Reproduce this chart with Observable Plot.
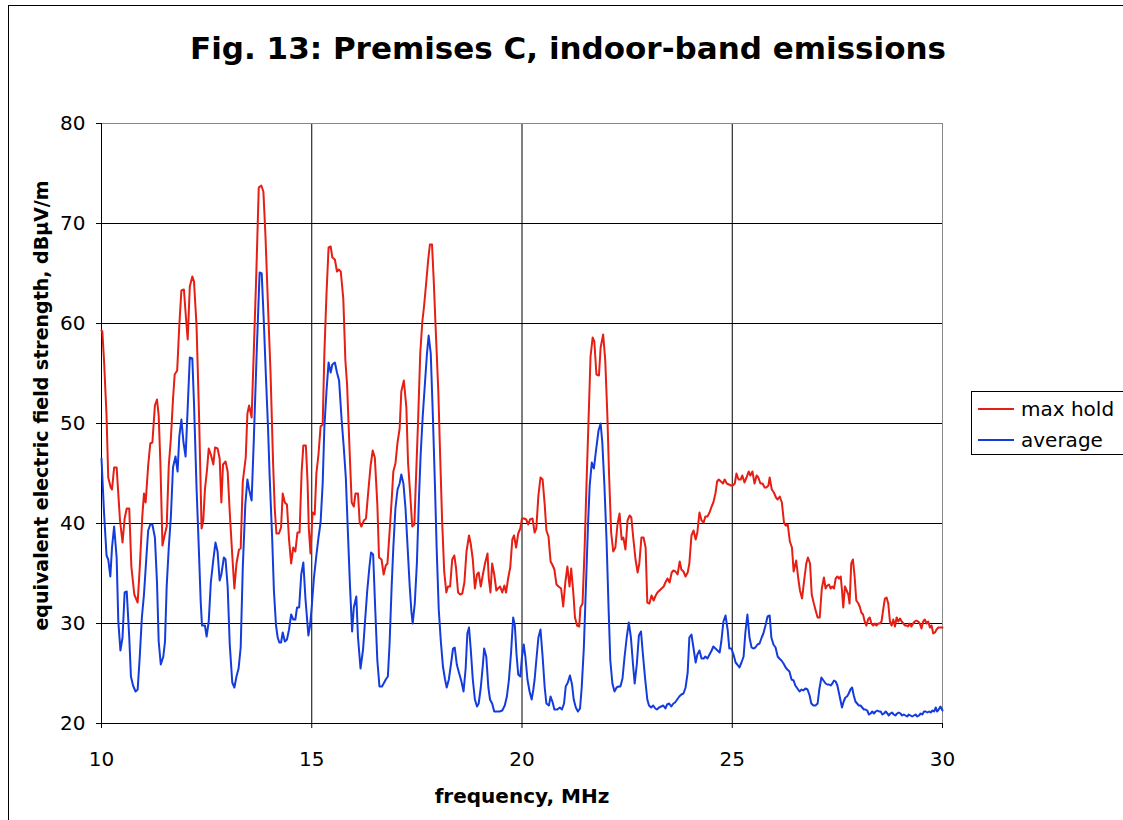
<!DOCTYPE html>
<html><head><meta charset="utf-8">
<script src="https://cdn.jsdelivr.net/npm/d3@7"></script>
<script src="https://cdn.jsdelivr.net/npm/@observablehq/plot@0.6"></script>
<style>
html,body{margin:0;padding:0;background:#fff;overflow:hidden}
#page{position:relative;width:1123px;height:820px;overflow:hidden;font-family:"DejaVu Sans",Verdana,sans-serif;color:#000}
#border{position:absolute;left:8px;top:5px;width:1300px;height:1000px;border:1px solid #000;box-sizing:border-box}
#title{position:absolute;left:0;top:33px;width:1136px;text-align:center;font-weight:bold;font-size:31px;line-height:31px;white-space:nowrap}
#chart{position:absolute;left:0;top:100px}
#legend{position:absolute;left:971px;top:391px;width:160px;height:64px;border:1px solid #000;box-sizing:border-box;background:#fff;font-size:20px}
.row{position:absolute;left:0;height:24px;width:160px}
.sw{position:absolute;left:6px;top:11px;width:36px;height:2px}
.lab{position:absolute;left:49px;top:0;line-height:24px;white-space:nowrap}
</style></head>
<body>
<div id="page">
  <div id="border"></div>
  <div id="title"></div>
  <div id="chart"></div>
  <div id="legend"></div>
</div>
<script>
const titleText = "Fig. 13: Premises C, indoor-band emissions";
const xLabel = "frequency, MHz";
const yLabel = "equivalent electric field strength, dBµV/m";
const xTicks = [10, 15, 20, 25, 30];
const yTicks = [20, 30, 40, 50, 60, 70, 80];
const seriesNames = ["max hold", "average"];
const seriesColors = ["#e61e14", "#143cdc"];

// [frequency MHz, dBµV/m]
const maxHold = [
[10.00,59.3],[10.02,59.2],[10.06,56.3],[10.12,50.8],[10.16,44.6],[10.22,43.6],[10.25,43.4],[10.30,45.6],[10.36,45.6],[10.44,40.3],
[10.50,38.1],[10.55,40.5],[10.60,41.5],[10.66,41.5],[10.71,35.7],[10.78,32.9],[10.86,32.1],[10.91,35.6],[10.97,40.7],[11.01,43.0],
[11.05,42.1],[11.11,45.8],[11.16,48.0],[11.21,48.1],[11.27,51.8],[11.32,52.4],[11.36,50.8],[11.40,46.1],[11.45,37.8],[11.50,38.8],
[11.55,39.7],[11.60,45.8],[11.65,48.5],[11.70,52.4],[11.74,54.9],[11.80,55.3],[11.85,59.8],[11.90,63.3],[11.96,63.4],[12.01,60.5],
[12.05,58.4],[12.10,63.7],[12.16,64.7],[12.20,64.2],[12.26,59.8],[12.32,50.8],[12.38,39.5],[12.42,40.3],[12.46,43.4],[12.51,45.4],
[12.55,47.5],[12.60,46.9],[12.66,45.9],[12.70,47.6],[12.76,47.5],[12.81,46.5],[12.85,42.1],[12.89,45.9],[12.95,46.2],[13.00,45.2],
[13.05,41.1],[13.11,36.8],[13.16,33.5],[13.21,36.0],[13.27,37.4],[13.31,37.5],[13.36,44.2],[13.43,46.6],[13.47,51.0],[13.51,51.8],
[13.57,50.6],[13.62,57.0],[13.68,64.8],[13.74,73.6],[13.80,73.8],[13.85,73.2],[13.90,68.7],[13.96,61.7],[14.02,55.1],[14.08,46.1],
[14.12,41.5],[14.16,39.0],[14.22,39.0],[14.27,39.6],[14.31,43.0],[14.36,42.1],[14.41,41.9],[14.46,38.4],[14.51,36.0],[14.56,37.6],
[14.61,37.2],[14.66,39.1],[14.71,39.1],[14.76,45.2],[14.80,47.8],[14.86,47.8],[14.90,44.2],[14.93,39.5],[14.97,37.0],[15.02,41.1],
[15.07,40.9],[15.11,45.0],[15.16,46.9],[15.21,49.7],[15.26,49.9],[15.30,57.0],[15.35,62.9],[15.40,67.6],[15.45,67.7],[15.49,66.6],
[15.55,66.4],[15.60,65.2],[15.64,65.4],[15.69,65.2],[15.75,62.5],[15.80,56.3],[15.84,53.9],[15.90,47.3],[15.95,42.1],[16.00,41.7],
[16.04,43.0],[16.10,43.0],[16.14,40.1],[16.18,39.7],[16.24,40.3],[16.29,40.5],[16.34,43.0],[16.40,45.8],[16.45,47.3],[16.50,46.6],
[16.56,41.9],[16.60,36.6],[16.66,36.4],[16.71,34.9],[16.76,35.8],[16.80,36.0],[16.85,39.1],[16.90,42.3],[16.94,45.2],[16.99,46.0],
[17.04,48.1],[17.09,49.5],[17.13,53.2],[17.19,54.3],[17.25,51.6],[17.29,46.1],[17.34,43.0],[17.39,39.7],[17.44,39.9],[17.48,44.6],
[17.53,50.4],[17.58,57.0],[17.63,60.2],[17.67,61.7],[17.72,64.0],[17.77,66.4],[17.81,67.9],[17.86,67.9],[17.90,64.4],[17.96,58.2],
[18.01,53.2],[18.05,47.3],[18.10,40.3],[18.15,35.2],[18.20,33.1],[18.24,33.7],[18.29,33.7],[18.34,36.4],[18.39,36.8],[18.43,35.6],
[18.48,33.1],[18.53,32.9],[18.58,33.0],[18.63,34.1],[18.68,37.2],[18.74,38.8],[18.78,38.0],[18.83,36.4],[18.88,33.5],[18.93,34.9],
[18.97,35.1],[19.02,33.7],[19.07,34.9],[19.12,36.0],[19.18,37.0],[19.21,34.5],[19.25,33.1],[19.29,36.0],[19.34,34.9],[19.39,33.3],
[19.43,33.5],[19.48,33.7],[19.53,33.1],[19.58,33.8],[19.62,33.1],[19.67,34.5],[19.72,35.6],[19.77,38.4],[19.81,38.8],[19.86,37.6],
[19.91,39.0],[19.96,39.5],[20.00,40.5],[20.05,40.5],[20.10,40.4],[20.15,39.9],[20.19,40.4],[20.25,40.5],[20.30,39.1],[20.34,39.5],
[20.39,42.8],[20.44,44.6],[20.49,44.4],[20.54,41.9],[20.58,39.3],[20.63,38.7],[20.68,36.2],[20.73,35.8],[20.77,35.4],[20.82,33.9],
[20.87,33.7],[20.93,33.5],[20.98,31.7],[21.03,34.1],[21.08,35.7],[21.13,33.7],[21.17,35.5],[21.22,33.1],[21.26,30.6],[21.31,29.8],
[21.36,29.7],[21.39,31.6],[21.44,32.0],[21.49,37.6],[21.53,43.4],[21.58,50.0],[21.63,56.7],[21.68,58.6],[21.72,58.2],[21.77,54.9],
[21.83,54.8],[21.87,57.6],[21.93,58.9],[21.98,56.3],[22.03,50.8],[22.07,45.0],[22.12,39.1],[22.17,37.2],[22.22,37.6],[22.27,39.9],
[22.32,41.0],[22.37,38.4],[22.41,38.6],[22.46,37.4],[22.51,40.3],[22.56,40.8],[22.60,40.6],[22.65,38.4],[22.70,36.4],[22.75,35.1],
[22.79,36.0],[22.84,38.6],[22.89,38.6],[22.94,37.6],[22.98,32.1],[23.03,32.0],[23.08,32.8],[23.13,32.3],[23.18,32.8],[23.22,33.1],
[23.27,33.3],[23.32,33.5],[23.37,33.7],[23.41,34.1],[23.46,34.5],[23.51,34.1],[23.56,35.1],[23.60,35.3],[23.65,35.2],[23.70,34.9],
[23.75,36.2],[23.79,35.4],[23.84,35.2],[23.89,34.7],[23.94,35.1],[23.98,36.0],[24.03,38.8],[24.08,39.3],[24.13,38.4],[24.17,39.1],
[24.22,41.1],[24.27,40.3],[24.32,40.1],[24.36,40.7],[24.41,40.7],[24.46,41.1],[24.51,41.7],[24.55,42.1],[24.60,43.0],[24.64,44.2],
[24.68,44.4],[24.73,44.2],[24.78,44.0],[24.82,44.4],[24.87,44.0],[24.92,43.9],[24.97,43.8],[25.01,43.8],[25.06,44.0],[25.10,45.0],
[25.15,44.4],[25.20,44.4],[25.24,44.8],[25.29,44.1],[25.34,44.6],[25.39,45.2],[25.43,44.8],[25.48,45.2],[25.53,44.0],[25.58,44.8],
[25.62,44.6],[25.67,44.0],[25.72,44.0],[25.77,43.6],[25.81,43.6],[25.86,43.8],[25.89,44.6],[25.94,43.4],[25.99,43.1],[26.04,42.6],
[26.08,42.4],[26.13,42.7],[26.18,42.1],[26.23,40.1],[26.27,39.8],[26.32,39.9],[26.37,38.2],[26.42,37.6],[26.46,35.2],[26.52,36.3],
[26.57,34.5],[26.61,33.3],[26.66,32.5],[26.71,34.3],[26.76,36.0],[26.80,36.6],[26.85,36.0],[26.89,32.9],[26.94,32.0],[26.99,31.2],
[27.03,30.6],[27.08,30.6],[27.13,33.5],[27.18,34.6],[27.22,33.5],[27.26,33.8],[27.30,33.9],[27.34,33.5],[27.38,33.7],[27.42,33.5],
[27.46,34.5],[27.50,34.7],[27.54,34.5],[27.58,34.7],[27.61,33.3],[27.64,31.6],[27.68,33.7],[27.72,33.3],[27.76,32.9],[27.79,32.0],
[27.83,36.0],[27.87,36.4],[27.91,34.7],[27.95,32.3],[28.00,32.0],[28.03,31.7],[28.07,31.1],[28.11,30.9],[28.15,30.2],[28.19,29.8],
[28.23,30.4],[28.27,30.6],[28.31,30.0],[28.35,29.8],[28.39,30.0],[28.43,29.8],[28.47,30.0],[28.51,30.0],[28.55,30.2],[28.59,31.4],
[28.63,32.5],[28.67,32.6],[28.71,32.0],[28.75,30.2],[28.79,29.8],[28.83,30.4],[28.87,29.7],[28.91,30.6],[28.95,30.2],[28.99,30.5],
[29.03,30.2],[29.07,30.0],[29.11,29.8],[29.15,29.8],[29.18,29.7],[29.22,30.0],[29.26,29.7],[29.30,30.0],[29.34,30.2],[29.38,30.3],
[29.42,30.2],[29.46,30.0],[29.50,29.5],[29.54,30.2],[29.58,30.4],[29.62,30.0],[29.66,30.2],[29.70,29.6],[29.74,29.8],[29.78,29.0],
[29.82,29.1],[29.86,29.4],[29.90,29.6],[29.94,29.6],[30.00,29.6]
];

const average = [
[10.00,46.5],[10.06,41.1],[10.12,36.8],[10.16,36.4],[10.21,34.7],[10.25,37.6],[10.30,39.7],[10.36,36.6],[10.40,30.2],[10.45,27.3],
[10.50,28.6],[10.55,33.1],[10.60,33.2],[10.66,28.6],[10.70,24.7],[10.75,23.8],[10.81,23.2],[10.86,23.4],[10.91,26.7],[10.96,30.6],
[11.01,32.9],[11.07,36.8],[11.11,39.3],[11.16,39.9],[11.21,39.9],[11.27,38.6],[11.32,34.1],[11.36,28.2],[11.41,25.9],[11.47,26.7],
[11.51,28.2],[11.55,33.7],[11.60,37.6],[11.65,40.7],[11.70,45.6],[11.76,46.7],[11.81,45.2],[11.85,48.7],[11.90,50.4],[11.95,48.1],
[12.00,46.7],[12.05,51.6],[12.10,56.6],[12.16,56.5],[12.20,52.0],[12.26,43.6],[12.31,38.0],[12.36,32.1],[12.39,29.8],[12.46,29.8],
[12.50,28.7],[12.55,30.2],[12.60,34.1],[12.66,36.4],[12.71,38.1],[12.76,37.2],[12.81,34.3],[12.85,34.9],[12.91,36.6],[12.95,36.4],
[13.00,33.7],[13.05,27.9],[13.11,24.1],[13.16,23.6],[13.21,24.7],[13.26,25.5],[13.31,27.6],[13.36,35.6],[13.42,41.9],[13.47,44.4],
[13.51,43.4],[13.57,42.3],[13.62,48.1],[13.69,57.0],[13.76,65.1],[13.81,65.0],[13.86,60.2],[13.91,54.7],[13.96,49.6],[14.00,44.6],
[14.06,38.4],[14.10,33.3],[14.15,29.8],[14.19,28.6],[14.23,28.1],[14.27,28.1],[14.31,29.1],[14.36,28.2],[14.41,28.4],[14.46,29.4],
[14.51,30.9],[14.56,30.4],[14.61,30.4],[14.65,31.6],[14.70,31.6],[14.75,34.9],[14.80,36.1],[14.85,32.5],[14.92,28.8],[14.96,29.8],
[15.00,31.7],[15.05,34.5],[15.11,36.8],[15.16,38.6],[15.21,40.1],[15.26,44.0],[15.30,49.6],[15.35,53.2],[15.40,56.1],[15.45,55.1],
[15.49,55.9],[15.55,56.1],[15.60,55.1],[15.65,54.3],[15.71,50.4],[15.76,47.7],[15.81,44.6],[15.86,39.1],[15.91,33.7],[15.96,29.2],
[16.00,31.6],[16.06,32.7],[16.10,28.6],[16.16,25.5],[16.22,27.4],[16.26,29.8],[16.32,33.3],[16.37,35.6],[16.41,37.1],[16.46,36.9],
[16.51,31.4],[16.56,26.3],[16.61,23.7],[16.67,23.7],[16.71,24.0],[16.76,24.4],[16.81,24.7],[16.85,27.9],[16.90,33.7],[16.94,37.6],
[16.99,41.5],[17.04,43.4],[17.09,44.0],[17.13,44.9],[17.18,44.0],[17.23,41.5],[17.28,37.6],[17.33,33.7],[17.37,31.2],[17.40,30.0],
[17.45,32.0],[17.50,36.0],[17.55,42.6],[17.59,46.9],[17.64,50.8],[17.69,53.9],[17.74,57.0],[17.78,58.8],[17.83,57.0],[17.88,50.8],
[17.93,43.8],[17.97,37.6],[18.02,31.4],[18.07,28.2],[18.12,25.7],[18.17,24.4],[18.21,23.6],[18.26,24.4],[18.31,25.9],[18.36,27.5],
[18.40,27.6],[18.45,25.9],[18.50,25.1],[18.56,24.2],[18.61,23.2],[18.66,25.5],[18.70,29.0],[18.74,29.6],[18.78,27.5],[18.83,24.4],
[18.88,22.4],[18.93,21.7],[18.97,22.0],[19.02,23.6],[19.07,25.9],[19.10,27.5],[19.15,26.7],[19.20,23.6],[19.24,22.4],[19.29,22.0],
[19.34,21.2],[19.40,21.2],[19.47,21.2],[19.53,21.3],[19.59,21.8],[19.64,22.7],[19.69,24.4],[19.74,27.1],[19.79,30.6],[19.83,29.8],
[19.87,26.9],[19.91,24.9],[19.96,24.7],[20.00,26.7],[20.04,27.9],[20.08,26.7],[20.13,24.4],[20.18,23.2],[20.23,22.4],[20.27,23.4],
[20.30,24.4],[20.34,26.3],[20.39,28.6],[20.44,29.4],[20.49,26.7],[20.54,23.6],[20.58,22.0],[20.64,21.8],[20.68,22.7],[20.73,22.1],
[20.77,21.4],[20.84,21.4],[20.90,21.6],[20.95,21.4],[21.00,22.0],[21.04,23.7],[21.09,24.1],[21.14,24.8],[21.19,23.9],[21.23,22.4],
[21.28,21.6],[21.33,21.2],[21.38,21.5],[21.42,23.6],[21.47,27.5],[21.52,33.7],[21.57,39.9],[21.61,43.8],[21.66,46.1],[21.71,45.5],
[21.76,47.3],[21.82,49.3],[21.87,50.0],[21.91,48.1],[21.96,43.8],[22.01,38.4],[22.06,31.4],[22.10,26.3],[22.15,24.0],[22.20,23.2],
[22.25,23.6],[22.30,23.7],[22.34,23.7],[22.39,24.5],[22.44,26.7],[22.49,28.6],[22.54,30.1],[22.59,28.6],[22.64,25.9],[22.68,24.0],
[22.73,25.9],[22.78,28.8],[22.83,29.2],[22.88,26.7],[22.93,24.4],[22.98,22.4],[23.02,21.8],[23.07,21.6],[23.12,21.8],[23.17,21.5],
[23.21,21.4],[23.26,21.6],[23.31,21.7],[23.36,21.8],[23.41,21.5],[23.45,21.9],[23.50,22.0],[23.55,21.7],[23.60,22.0],[23.64,22.1],
[23.69,22.4],[23.74,22.7],[23.79,22.9],[23.84,23.0],[23.89,23.6],[23.94,25.1],[23.98,28.6],[24.03,28.9],[24.08,27.5],[24.13,26.1],
[24.17,26.9],[24.22,27.3],[24.27,26.5],[24.32,26.5],[24.36,26.7],[24.41,26.5],[24.46,26.9],[24.51,27.3],[24.55,27.7],[24.60,27.5],
[24.65,27.3],[24.70,27.1],[24.74,28.2],[24.79,30.2],[24.84,30.8],[24.89,29.4],[24.93,27.5],[24.98,27.5],[25.03,26.9],[25.08,26.1],
[25.12,25.9],[25.17,25.6],[25.22,26.1],[25.27,26.7],[25.31,29.0],[25.36,30.9],[25.41,28.6],[25.46,27.6],[25.50,27.5],[25.55,27.6],
[25.60,27.9],[25.65,28.0],[25.70,28.6],[25.74,29.0],[25.79,29.8],[25.84,30.7],[25.89,30.8],[25.93,28.6],[25.98,27.9],[26.03,27.6],
[26.08,26.7],[26.12,26.5],[26.17,26.3],[26.22,26.0],[26.27,25.6],[26.31,25.4],[26.36,25.2],[26.41,24.4],[26.46,24.3],[26.50,23.8],
[26.55,23.5],[26.60,23.2],[26.65,23.4],[26.69,23.3],[26.74,23.5],[26.79,23.4],[26.84,22.8],[26.88,22.0],[26.93,21.8],[26.98,21.8],
[27.03,22.0],[27.07,23.4],[27.12,24.6],[27.17,24.3],[27.22,24.0],[27.26,23.9],[27.30,23.9],[27.34,23.8],[27.38,24.0],[27.42,24.3],
[27.46,24.2],[27.50,23.8],[27.54,23.0],[27.58,22.2],[27.61,21.6],[27.65,22.2],[27.69,22.6],[27.73,22.7],[27.77,23.0],[27.81,23.4],
[27.85,23.6],[27.89,22.8],[27.93,22.2],[27.97,22.0],[28.01,21.8],[28.05,21.8],[28.09,21.6],[28.13,21.4],[28.17,21.4],[28.21,21.3],
[28.25,20.9],[28.29,21.0],[28.33,21.2],[28.37,21.0],[28.41,21.2],[28.45,21.3],[28.49,21.2],[28.53,21.2],[28.57,20.9],[28.61,21.0],
[28.65,21.2],[28.69,21.0],[28.72,20.8],[28.76,21.0],[28.80,21.1],[28.84,20.9],[28.88,20.8],[28.92,21.0],[28.96,21.1],[29.00,21.0],
[29.04,20.8],[29.08,20.9],[29.12,20.8],[29.16,20.7],[29.20,20.9],[29.24,20.8],[29.28,20.7],[29.32,20.8],[29.36,20.9],[29.40,20.7],
[29.44,20.8],[29.48,21.0],[29.52,20.9],[29.56,21.2],[29.60,21.2],[29.64,21.1],[29.68,21.2],[29.72,21.1],[29.76,21.3],[29.80,21.2],
[29.84,21.6],[29.87,21.2],[29.91,21.4],[29.95,21.7],[30.00,21.3]
];

document.getElementById("title").textContent = titleText;

const font = "'DejaVu Sans', Verdana, sans-serif";
const chart = Plot.plot({
  width: 960,
  height: 720,
  marginLeft: 101,
  marginRight: 18,
  marginTop: 23,
  marginBottom: 97,
  style: {fontFamily: font, fontSize: "20px", color: "#000", background: "transparent", overflow: "visible"},
  x: {domain: [10, 30]},
  y: {domain: [20, 80]},
  marks: [
    Plot.gridY(yTicks.slice(1, -1), {stroke: "#000", strokeOpacity: 1}),
    Plot.gridX(xTicks.slice(1, -1), {stroke: "#000", strokeOpacity: 1}),
    Plot.frame({stroke: "#888"}),
    Plot.ruleX([10], {stroke: "#000"}),
    Plot.ruleY([20], {stroke: "#000"}),
    Plot.axisX(xTicks, {tickSize: 5, tickPadding: 23, label: null, tickFormat: d => String(d)}),
    Plot.axisY(yTicks, {tickSize: 5, tickPadding: 11, label: null, tickFormat: d => String(d)}),
    Plot.text([xLabel], {text: d => d, frameAnchor: "bottom", dy: 79, fontWeight: "bold", fontSize: 20}),
    Plot.text([yLabel], {text: d => d, frameAnchor: "left", textAnchor: "middle", dx: -60, dy: -18, rotate: -90, fontWeight: "bold", fontSize: 19}),
    Plot.line(maxHold, {x: d => d[0], y: d => d[1], stroke: seriesColors[0], strokeWidth: 2}),
    Plot.line(average, {x: d => d[0], y: d => d[1], stroke: seriesColors[1], strokeWidth: 2})
  ]
});
document.getElementById("chart").appendChild(chart);

const legend = document.getElementById("legend");
seriesNames.forEach((name, i) => {
  const row = document.createElement("div");
  row.className = "row";
  row.style.top = (5 + i * 31) + "px";
  row.innerHTML = `<div class="sw" style="background:${seriesColors[i]}"></div><div class="lab">${name}</div>`;
  legend.appendChild(row);
});
</script>
</body></html>
